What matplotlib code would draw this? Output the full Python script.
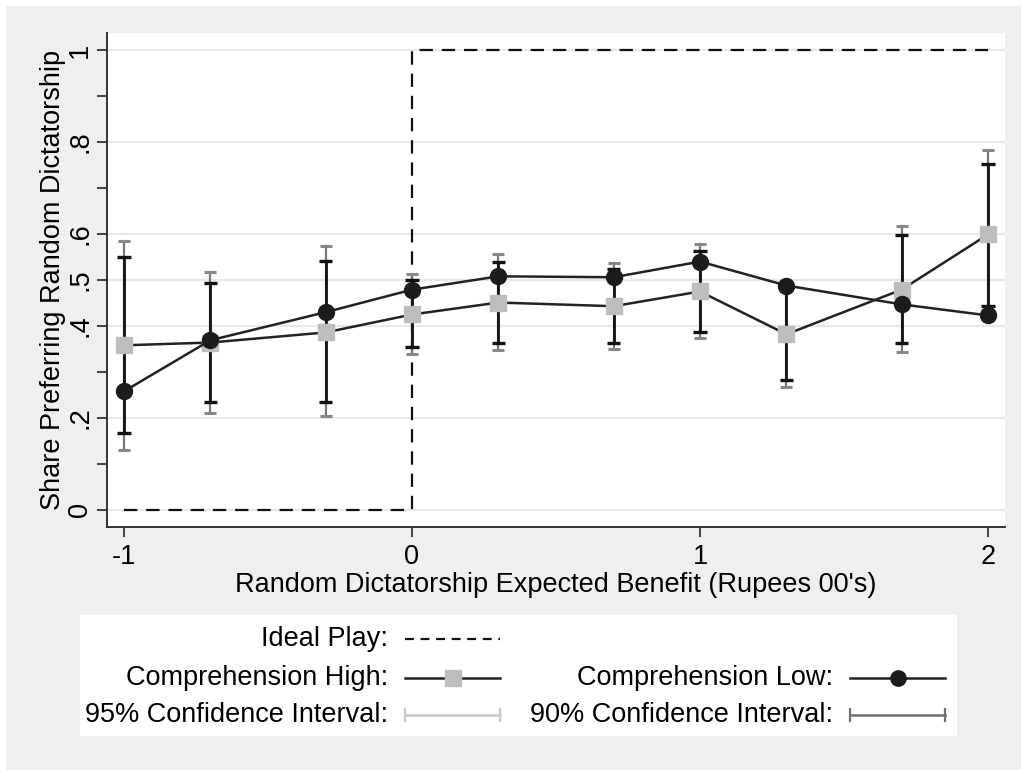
import matplotlib
matplotlib.use("Agg")
import matplotlib.pyplot as plt
from matplotlib.lines import Line2D
from matplotlib.patches import Rectangle

plt.rcParams['font.family'] = ['Liberation Sans', 'DejaVu Sans']

# ---- data ----
x_vals = [-1, -0.7, -0.3, 0, 0.3, 0.7, 1, 1.3, 1.7, 2]
high = [0.358, 0.364, 0.386, 0.425, 0.451, 0.443, 0.475, 0.382, 0.479, 0.599]
low = [0.258, 0.369, 0.430, 0.479, 0.508, 0.506, 0.540, 0.488, 0.447, 0.423]
hi_lo95 = [0.130, 0.210, 0.204, 0.340, 0.347, 0.349, 0.373, 0.267, 0.343, 0.415]
hi_up95 = [0.584, 0.518, 0.575, 0.514, 0.557, 0.538, 0.579, 0.497, 0.618, 0.783]
hi_lo90 = [0.167, 0.234, 0.234, 0.354, 0.364, 0.364, 0.388, 0.282, 0.364, 0.443]
hi_up90 = [0.549, 0.493, 0.542, 0.499, 0.540, 0.523, 0.562, 0.482, 0.597, 0.752]
ideal_x = [-1, 0, 0, 2]
ideal_y = [0, 0, 1, 1]
yticks = [0, 0.1, 0.2, 0.3, 0.4, 0.5, 0.6, 0.7, 0.8, 0.9, 1.0]
ytick_labels = ['0', '', '.2', '', '.4', '.5', '.6', '', '.8', '', '1']
grid_y = [0, 0.2, 0.4, 0.5, 0.6, 0.8, 1.0]
xticks = [-1, 0, 1, 2]
xtick_labels = ['-1', '0', '1', '2']

W, H = 1021, 770
fig = plt.figure(figsize=(W / 100, H / 100), dpi=100, facecolor='white')
BG = '#efefef'
fig.patches.append(Rectangle((6 / W, 0), 1 - 6 / W, 1 - 6 / H, transform=fig.transFigure,
                             facecolor=BG, edgecolor='none', zorder=-10))

def fbox(l, t, r, b):
    return [l / W, 1 - b / H, (r - l) / W, (b - t) / H]

ax = fig.add_axes(fbox(107, 33, 1005, 527))
ax.set_facecolor('white')
ax.set_xlim(-1.059, 2.059)
ax.set_ylim(-0.037, 1.037)
for s in ['top', 'right']:
    ax.spines[s].set_visible(False)
for s in ['left', 'bottom']:
    ax.spines[s].set_color('#333333')
    ax.spines[s].set_linewidth(1.4)

for g in grid_y:
    ax.axhline(g, color='#e8e8e8', lw=1.6, zorder=0)

FS = 19.5
ax.set_yticks(yticks)
ax.set_yticklabels(ytick_labels, rotation=90, va='center', fontsize=FS)
ax.set_xticks(xticks)
ax.set_xticklabels(xtick_labels, fontsize=FS)
ax.tick_params(axis='both', direction='out', length=7, width=1.3, color='#333333')
ax.tick_params(axis='y', pad=3)
ax.tick_params(axis='x', pad=5)
ax.set_ylabel('Share Preferring Random Dictatorship', fontsize=FS, labelpad=1)
ax.set_xlabel("Random Dictatorship Expected Benefit (Rupees 00's)", fontsize=FS, labelpad=2)

# ideal play
ax.plot(ideal_x, ideal_y, color='#111111', lw=1.6, ls=(0, (6, 4)), zorder=2)

# confidence intervals
for xv, lo, up in zip(x_vals, hi_lo95, hi_up95):
    ax.plot([xv, xv], [lo, up], color='#777777', lw=1.6, zorder=3)
    for yv in (lo, up):
        ax.plot([xv - 0.021, xv + 0.021], [yv, yv], color='#888888', lw=2.2, zorder=3,
                solid_capstyle='butt')
for xv, lo, up in zip(x_vals, hi_lo90, hi_up90):
    ax.plot([xv, xv], [lo, up], color='#111111', lw=2.0, zorder=4)
    for yv in (lo, up):
        ax.plot([xv - 0.023, xv + 0.023], [yv, yv], color='#111111', lw=2.4, zorder=4,
                solid_capstyle='butt')

ax.plot(x_vals, high, color='#222222', lw=1.8, marker='s', markersize=11.5,
        markerfacecolor='#bdbdbd', markeredgecolor='#bdbdbd', zorder=5)
ax.plot(x_vals, low, color='#222222', lw=1.8, marker='o', markersize=11.5,
        markerfacecolor='#1c1c1c', markeredgecolor='#1c1c1c', zorder=6)

# ---- legend box ----
lax = fig.add_axes(fbox(80, 615, 957, 736))
lax.set_xlim(80, 957)
lax.set_ylim(736, 615)
lax.set_facecolor('white')
lax.set_xticks([])
lax.set_yticks([])
for s in lax.spines.values():
    s.set_visible(False)

rows = [639, 678, 715]
lax.text(388, rows[0], 'Ideal Play:', ha='right', va='center', fontsize=FS)
lax.add_line(Line2D([405, 500], [rows[0], rows[0]], color='#111111', lw=1.6, ls=(0, (4, 3))))

lax.text(388, rows[1], 'Comprehension High:', ha='right', va='center', fontsize=FS)
lax.add_line(Line2D([405, 500], [rows[1], rows[1]], color='#222222', lw=1.8))
lax.add_line(Line2D([452.5], [rows[1]], marker='s', markersize=11, color='#bdbdbd', lw=0))

lax.text(833, rows[1], 'Comprehension Low:', ha='right', va='center', fontsize=FS)
lax.add_line(Line2D([850, 945], [rows[1], rows[1]], color='#222222', lw=1.8))
lax.add_line(Line2D([897.5], [rows[1]], marker='o', markersize=11, color='#1c1c1c', lw=0))

lax.text(388, rows[2], '95% Confidence Interval:', ha='right', va='center', fontsize=FS)
lax.add_line(Line2D([405, 500], [rows[2], rows[2]], color='#c8c8c8', lw=1.8))
for xx in (405, 500):
    lax.add_line(Line2D([xx, xx], [rows[2] - 6, rows[2] + 6], color='#c8c8c8', lw=1.6))

lax.text(833, rows[2], '90% Confidence Interval:', ha='right', va='center', fontsize=FS)
lax.add_line(Line2D([850, 945], [rows[2], rows[2]], color='#707070', lw=1.8))
for xx in (850, 945):
    lax.add_line(Line2D([xx, xx], [rows[2] - 6, rows[2] + 6], color='#707070', lw=1.6))

fig.savefig('out.png', dpi=100, facecolor=fig.get_facecolor())
